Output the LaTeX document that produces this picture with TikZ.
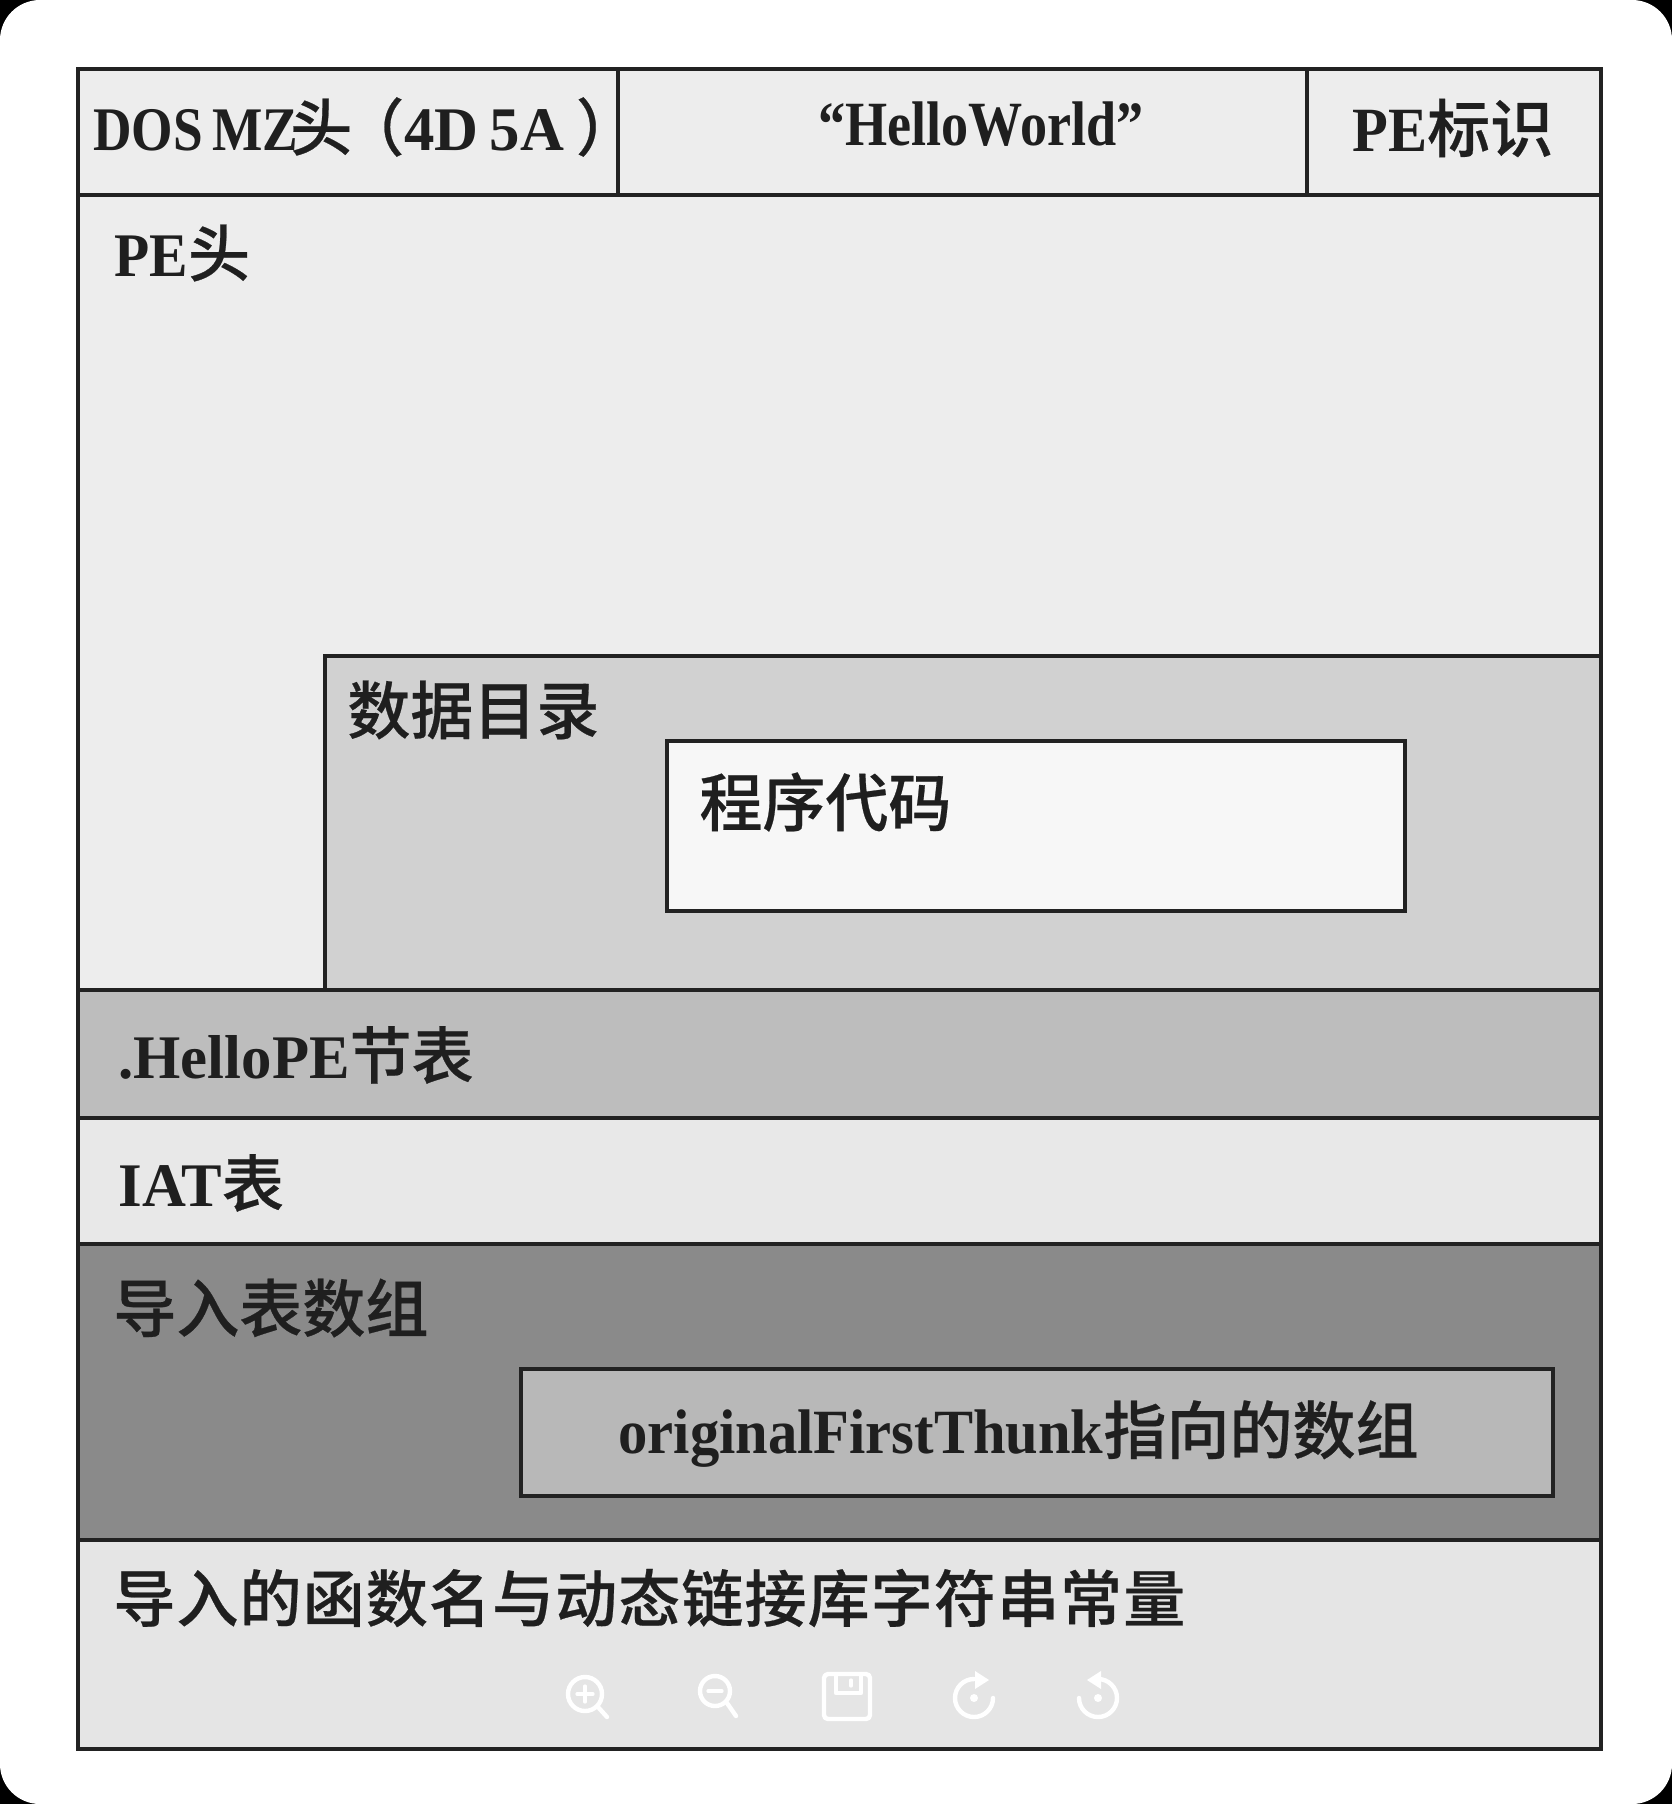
\documentclass[tikz,border=0pt]{standalone}
\usepackage{fontspec}
\setmainfont{Liberation Serif}[FakeStretch=0.93]
\newfontface\latnarrow{Liberation Serif Bold}[FakeStretch=0.86]
\newfontface\latwide{Liberation Serif Bold}[FakeStretch=0.98]
\newfontface\cjk{Noto Sans CJK SC Medium}[FakeBold=0.4]
\newfontface\cjkwide{Noto Sans CJK SC Medium}[FakeBold=0.4,LetterSpace=1.8]
\usetikzlibrary{positioning}

\definecolor{lineink}{HTML}{222222}

\begin{document}
\begin{tikzpicture}[
    x=0.5pt, y=-0.5pt,
    % Define styles for cells and labels
    cell/.style={draw=lineink, line width=1.7pt, anchor=north west, inner sep=0pt, outer sep=0pt},
    tag/.style={font=\fontsize{31}{36}\selectfont\bfseries, text=black!88, anchor=west, inner sep=0pt},
    bigtag/.style={tag, font=\fontsize{31.5}{36}\selectfont\bfseries},
    zh/.style={font=\fontsize{31.5}{36}\selectfont\cjk, text=black!88, anchor=west, inner sep=0pt},
    toolicon/.style={draw=white, line width=2.2pt, line cap=round, line join=round}
]

% Page with rounded corners
\fill[black] (0,0) rectangle (1672,1804);
\fill[white, rounded corners=20pt] (0,0) rectangle (1672,1804);

% Header row
\node[cell, fill=black!7, minimum width=270pt, minimum height=63pt] (dos) at (78,69) {};
\node[cell, fill=black!7, minimum width=344.5pt, minimum height=63pt] (hello) at (618,69) {};
\node[cell, fill=black!7, minimum width=147pt, minimum height=63pt] (sign) at (1307,69) {};

% Main sections
\node[cell, fill=black!7, minimum width=761.5pt, minimum height=397.5pt] (pehead) at (78,195) {};
\node[cell, fill=black!18, minimum width=638pt, minimum height=167pt] (datadir) at (325,656) {};
\node[cell, fill=black!3, minimum width=369pt, minimum height=85pt] (code) at (667,741) {};
\node[cell, fill=black!26, minimum width=761.5pt, minimum height=64pt] (section) at (78,990) {};
\node[cell, fill=black!9, minimum width=761.5pt, minimum height=63pt] (iat) at (78,1118) {};
\node[cell, fill=black!46, minimum width=761.5pt, minimum height=148pt] (import) at (78,1244) {};
\node[cell, fill=black!28, minimum width=516pt, minimum height=63.5pt] (thunk) at (521,1369) {};
\node[cell, fill=black!10, minimum width=761.5pt, minimum height=104.5pt] (names) at (78,1540) {};

% Labels
\node[tag] (doslabel) at (93,127) {\latnarrow DOS\kern-2pt\ MZ\kern-4pt{\cjk 头\kern-5pt（\kern-7pt}\kern7pt{\latwide 4D\kern-2pt\ 5A}\kern6pt{\cjk ）}};
\node[bigtag, anchor=center] (hellolabel) at (981,124) {\latnarrow “HelloWorld”};
\node[bigtag] (signlabel) at (1352,128) {PE{\cjk 标识}};
\node[tag] (pelabel) at (114,253) {PE{\cjk 头}};
\node[zh] (dirlabel) at (347,710) {数据目录};
\node[zh] (codelabel) at (699,802) {程序代码};
\node[tag] (sectionlabel) at (118,1055) {\latwide .HelloPE{\cjk 节表}};
\node[tag] (iatlabel) at (118,1183) {\latwide IAT{\cjk 表}};
\node[zh] (importlabel) at (113,1308) {导入表数组};
\node[bigtag] (thunklabel) at (618,1434) {originalFirstThunk{\cjk 指向的数组}};
\node[zh, font=\fontsize{31}{36}\selectfont\cjkwide] (nameslabel) at (113,1598) {导入的函数名与动态链接库字符串常量};

% Viewer buttons
\draw[toolicon] (585,1694) circle (8.5pt);
\draw[toolicon] (598,1707) -- (607,1717);
\draw[toolicon, line width=1.6pt] (577,1694) -- (593,1694) (585,1686) -- (585,1702);
\draw[toolicon] (715,1691) circle (7.5pt);
\draw[toolicon] (727,1703) -- (736,1716);
\draw[toolicon, line width=1.6pt] (708,1691) -- (722,1691);
\draw[toolicon, rounded corners=2pt] (824,1674) rectangle (870,1719);
\draw[toolicon] (836,1674) -- (836,1693) -- (861,1693) -- (861,1674);
\draw[toolicon, line width=1.6pt] (851,1680) -- (851,1686);
\draw[toolicon] (974,1679) arc (90:360:9.5pt);
\fill[white] (975,1671) -- (989,1680) -- (975,1689) -- cycle;
\fill[white] (974,1698) circle (2pt);
\draw[toolicon] (1098,1679) arc (90:-180:9.5pt);
\fill[white] (1101,1671) -- (1087,1680) -- (1101,1689) -- cycle;
\fill[white] (1098,1698) circle (2pt);

\end{tikzpicture}
\end{document}
